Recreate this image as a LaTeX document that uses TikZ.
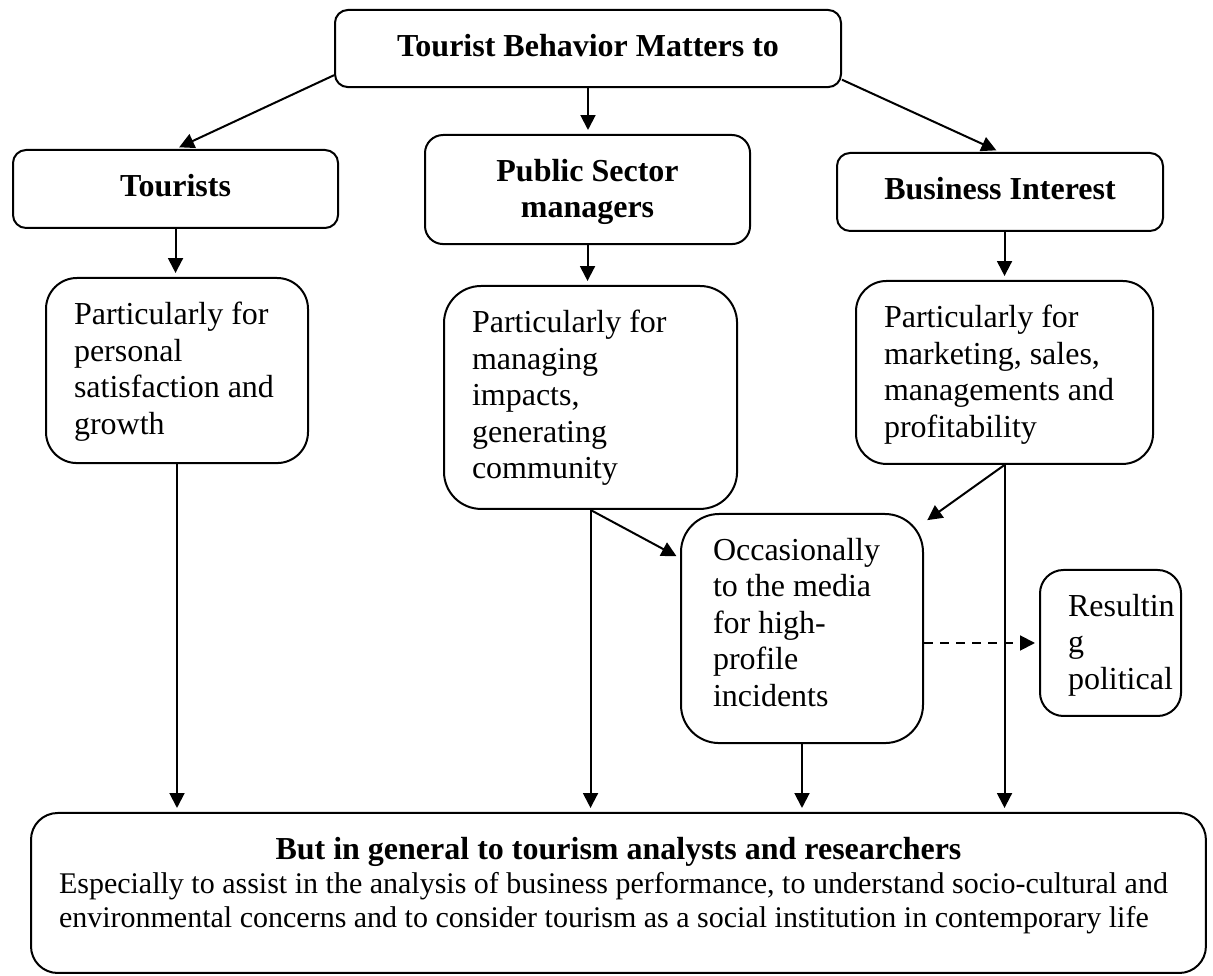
\documentclass[tikz,border=0pt]{standalone}
\usepackage{fontspec}
\setmainfont{Liberation Serif}
\usetikzlibrary{arrows.meta}
\newcommand{\boxtext}[3]{\parbox[c][#2][t]{#1}{\raggedright\hyphenpenalty=10000 #3}}
\tikzset{
  box/.style={draw, line width=0.75pt, rounded corners=#1, inner xsep=10.5pt,
              inner ysep=9pt, anchor=north west, font=\fontsize{12}{13.7}\selectfont},
  arr/.style={-{Triangle[length=5.6pt,width=5.6pt]}, line width=0.75pt, shorten >=1.5pt},
}
\begin{document}
\begin{tikzpicture}[x=0.375pt,y=-0.375pt]
  \useasboundingbox (0,0) rectangle (1213,976);
  % Title box
  \node[box=4.8pt] (top) at (334,9)
    {\boxtext{168.75pt}{10.9pt}{\centering\bfseries Tourist Behavior Matters to}};
  % Second row (who it matters to)
  \node[box=4.9pt] (tourists) at (12,149)
    {\boxtext{100.9pt}{11.25pt}{\centering\bfseries Tourists}};
  \node[box=6.8pt] (public) at (424,134)
    {\boxtext{100.9pt}{22.9pt}{\centering\bfseries Public Sector\\ managers}};
  \node[box=4.9pt] (business) at (836,152)
    {\boxtext{101.25pt}{11.25pt}{\centering\bfseries Business Interest}};
  % Third row (what for)
  \node[box=11.6pt] (personal) at (45,277)
    {\boxtext{77.25pt}{51.4pt}{Particularly for\\ personal\\ satisfaction and\\ growth}};
  \node[box=13.9pt] (managing) at (443,285)
    {\boxtext{88.9pt}{65.6pt}{Particularly for\\ managing\\ impacts,\\ generating\\ community}};
  \node[box=11.4pt] (marketing) at (855,280)
    {\boxtext{90.4pt}{50.6pt}{Particularly for\\ marketing, sales,\\ managements and\\ profitability}};
  % Media and political side boxes
  \node[box=14.3pt] (media) at (680,513)
    {\boxtext{69.75pt}{67.9pt}{\hspace*{1.5pt}Occasionally\\ \hspace*{1.5pt}to the media\\ \hspace*{1.5pt}for high-\\ \hspace*{1.5pt}profile\\ \hspace*{1.5pt}incidents}};
  \node[box=8.8pt] (political) at (1039,569)
    {\boxtext{31.9pt}{36.75pt}{Resultin\\ g\\ political}};
  % Bottom box
  \node[box=10pt] (general) at (30,812)
    {\boxtext{419.6pt}{42pt}{{\centering\bfseries But in general to tourism analysts and researchers\par}
     \fontsize{11.25}{12.75}\selectfont Especially to assist in the analysis of business performance, to understand socio-cultural and\\
     environmental concerns and to consider tourism as a social institution in contemporary life}};
  % Arrows from the title
  \draw[arr] (top.186) -- (tourists.north);
  \draw[arr] (top.south) -- (top.south |- public.north);
  \draw[arr] (top.353) -- (business.north);
  % Arrows down to the purposes
  \draw[arr] (tourists.south) -- (tourists.south |- personal.north);
  \draw[arr] (public.south) -- (public.south |- managing.north);
  \draw[arr] (marketing.north |- business.south) -- (marketing.north);
  % Arrows into the media box
  \draw[arr] (managing.south) -- (media.150);
  \draw[arr] (marketing.south) -- (media.41);
  \draw[arr, dashed, dash pattern=on 3.5pt off 2.5pt] (political.west -| media.east) -- (political.west);
  % Arrows down to the bottom box
  \draw[arr] (personal.south) -- (personal.south |- general.north);
  \draw[arr] (managing.south) -- (managing.south |- general.north);
  \draw[arr] (media.south) -- (media.south |- general.north);
  \draw[arr] (marketing.south) -- (marketing.south |- general.north);
\end{tikzpicture}
\end{document}
